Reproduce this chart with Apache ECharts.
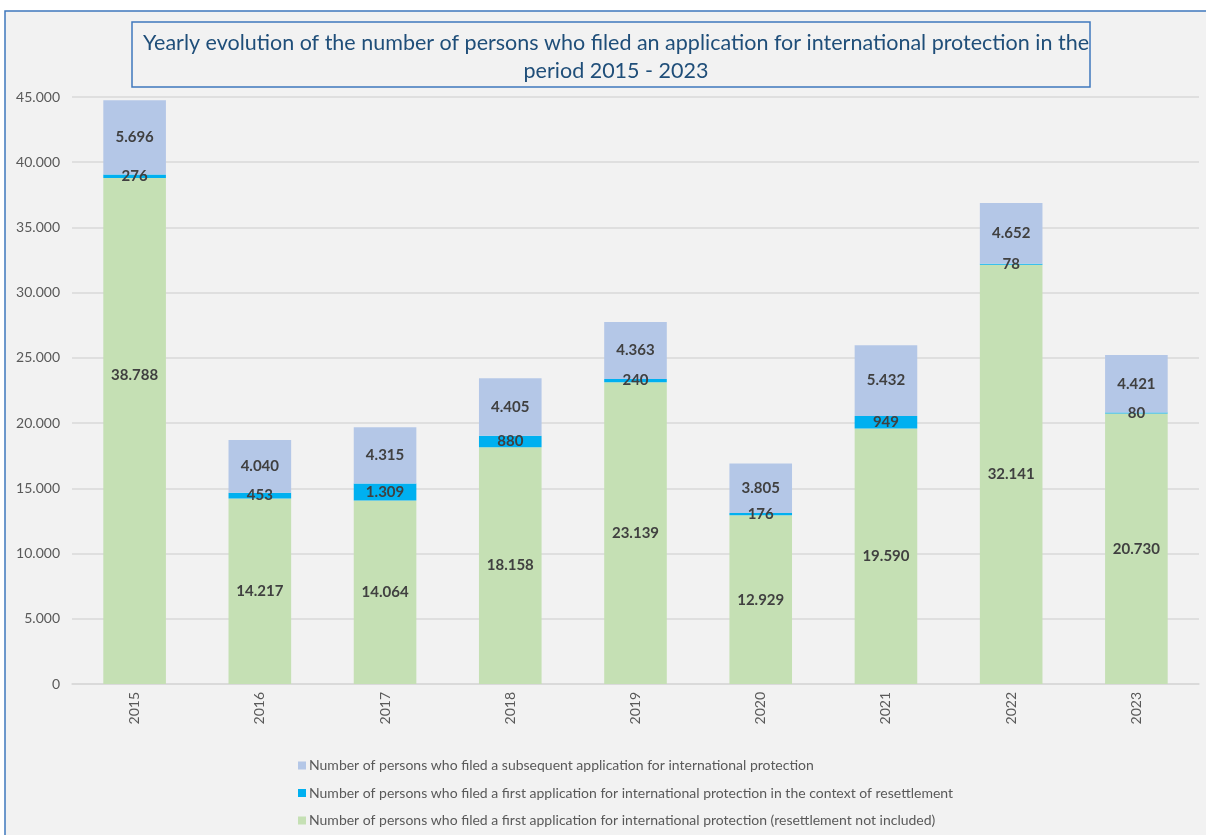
<!DOCTYPE html>
<html>
<head>
<meta charset="utf-8">
<script src="https://cdn.jsdelivr.net/npm/echarts@6/dist/echarts.min.js"></script>
<style>
  html, body { margin: 0; padding: 0; background: #fff; }
  #chart { width: 1206px; height: 835px; }
</style>
</head>
<body>
<div id="chart"></div>
<script>
const years = ['2015', '2016', '2017', '2018', '2019', '2020', '2021', '2022', '2023']
const firstApplications = [38788, 14217, 14064, 18158, 23139, 12929, 19590, 32141, 20730]
const resettlement = [276, 453, 1309, 880, 240, 176, 949, 78, 80]
const subsequent = [5696, 4040, 4315, 4405, 4363, 3805, 5432, 4652, 4421]

const nameFirst = 'Number of persons who filed a first application for international protection (resettlement not included)'
const nameResettle = 'Number of persons who filed a first application for international protection in the context of resettlement'
const nameSubsequent = 'Number of persons who filed a subsequent application for international protection'

// 38.788 style: dot as thousands separator
const fmt = v => String(v).replace(/\B(?=(\d{3})+(?!\d))/g, '.')

const font = 'Lato, "Open Sans", sans-serif'

const labelStyle = {
  show: true,
  position: 'inside',
  color: '#404040',
  fontWeight: 'bold',
  fontSize: 15,
  fontFamily: font,
  formatter: p => fmt(p.value)
}

const chart = echarts.init(document.getElementById('chart'))

const option = {
  backgroundColor: '#ffffff',
  animation: false,
  graphic: [
    {
      type: 'rect',
      z: -10,
      shape: { x: 5, y: 11, width: 1220, height: 840 },
      style: { fill: '#f2f2f2', stroke: '#3f78bd', lineWidth: 1.5 }
    },
    {
      type: 'rect',
      z: -5,
      shape: { x: 132, y: 22, width: 958, height: 65 },
      style: { fill: '#f2f2f2', stroke: '#3f78bd', lineWidth: 1.5 }
    }
  ],
  title: {
    text: 'Yearly evolution of the number of persons who filed an application for international protection in the\nperiod 2015 - 2023',
    left: 611,
    textAlign: 'center',
    top: 24,
    textStyle: {
      color: '#1f4e79',
      fontFamily: font,
      fontWeight: 'normal',
      fontSize: 21.5,
      lineHeight: 28
    }
  },
  legend: {
    orient: 'vertical',
    left: 298,
    top: 758,
    padding: 0,
    itemWidth: 8,
    itemHeight: 8,
    itemGap: 12.5,
    icon: 'rect',
    data: [nameSubsequent, nameResettle, nameFirst],
    textStyle: { color: '#595959', fontSize: 14, lineHeight: 15, fontFamily: font, padding: [0, 0, 0, -2] }
  },
  grid: { left: 72, right: 7, top: 97, bottom: 151 },
  xAxis: {
    type: 'category',
    data: years,
    axisLine: { lineStyle: { color: '#d9d9d9', width: 1.5 } },
    axisTick: { show: false },
    axisLabel: { rotate: 90, color: '#595959', fontSize: 14, fontFamily: font, margin: 8 }
  },
  yAxis: {
    type: 'value',
    min: 0,
    max: 45000,
    interval: 5000,
    axisLine: { show: false },
    axisTick: { show: false },
    splitLine: { lineStyle: { color: '#d9d9d9', width: 1.5 } },
    axisLabel: { color: '#595959', fontSize: 14, fontFamily: font, margin: 12, formatter: v => fmt(v) }
  },
  series: [
    {
      name: nameFirst,
      type: 'bar',
      stack: 'total',
      barWidth: '50%',
      itemStyle: { color: '#c5e0b4' },
      label: labelStyle,
      data: firstApplications.map((v, i) =>
        i === 0 ? { value: v, label: { offset: [0, -56] } } : v)
    },
    {
      name: nameResettle,
      type: 'bar',
      stack: 'total',
      itemStyle: { color: '#00b0f0' },
      label: labelStyle,
      data: resettlement
    },
    {
      name: nameSubsequent,
      type: 'bar',
      stack: 'total',
      itemStyle: { color: '#b4c7e7' },
      label: labelStyle,
      data: subsequent
    }
  ]
}

chart.setOption(option)
</script>
</body>
</html>
